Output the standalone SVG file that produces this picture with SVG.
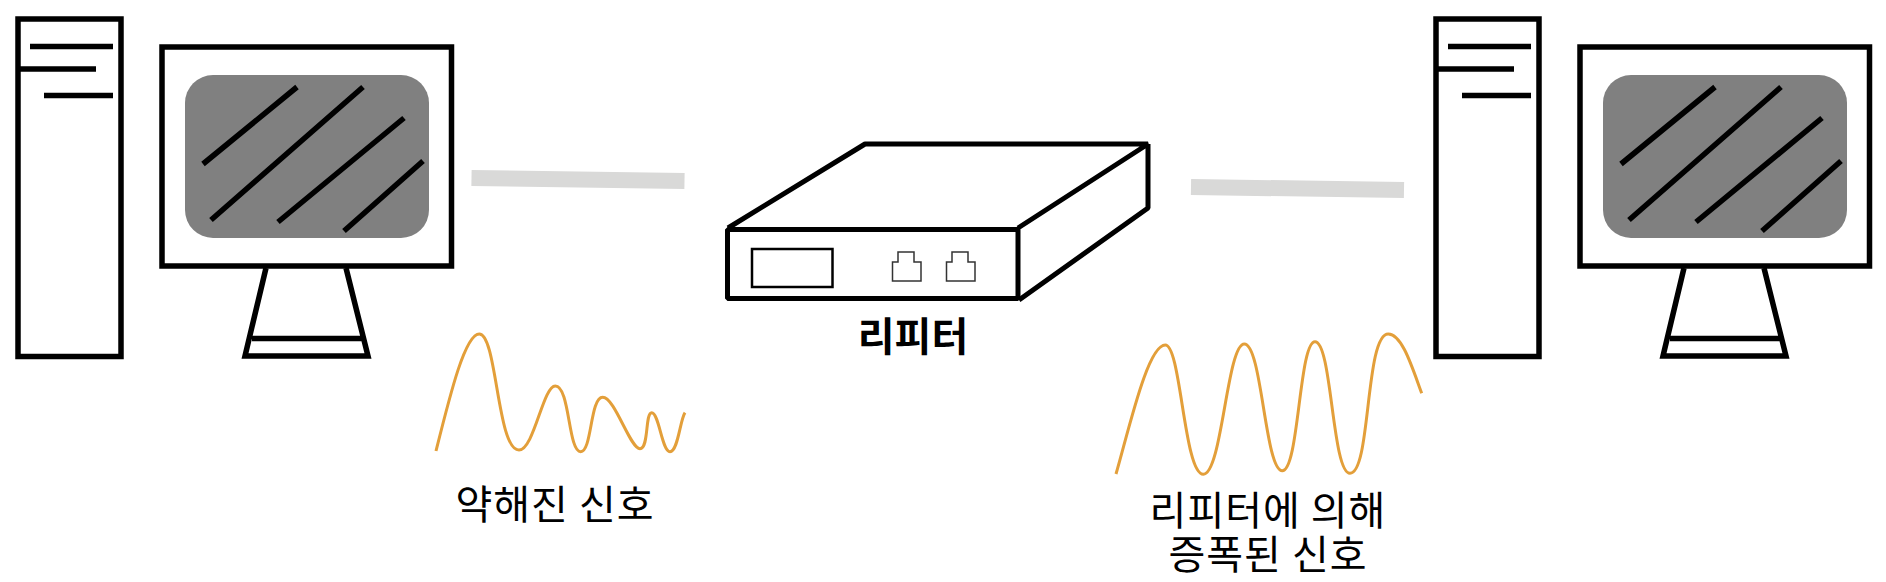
<svg xmlns="http://www.w3.org/2000/svg" width="1886" height="582" viewBox="0 0 1886 582">
<style>
.k{fill:none;stroke:#000;stroke-width:5.5}
.r{fill:none;stroke:#000;stroke-width:5;stroke-linejoin:bevel}
.p{fill:#fff;stroke:#333;stroke-width:1.5}
.wave{fill:none;stroke:#e39f3a;stroke-width:3}
.g{fill:none;stroke:#d9d9d8;stroke-width:16}
text{font-family:"Noto Sans CJK KR","Noto Sans",sans-serif;font-size:40px;letter-spacing:1px;fill:#000;text-anchor:middle}
</style>
<defs>
<g id="pc">
<rect class="k" x="18" y="19" width="103" height="337.500"/>
<path class="k" d="M30 46.500H113M18 69H96M44 95.500H113"/>
<rect class="k" x="162" y="47" width="289.500" height="219"/>
<rect x="185" y="75" width="244" height="163" rx="28" fill="#808080"/>
<path class="k" d="M203 164L297 87M211 220L363 87M278 222L404 118M344 231L423 161"/>
<path class="k" d="M266 268L245 356H368L346 268M252 338.500H362"/>
</g>
</defs>
<g id="pc-left"><use href="#pc"/></g>
<g id="pc-right"><use href="#pc" x="1418"/></g>
<g id="repeater">
<rect class="r" x="727.500" y="229.500" width="290.500" height="69"/>
<path class="r" d="M728 228L865 144H1148L1018 228M1148 144V208L1019 300"/>
<rect x="752" y="249" width="80.500" height="38" fill="#fff" stroke="#000" stroke-width="2.500"/>
<path class="p" d="M892.500 281V262H898V252H914V262H921V281Z"/>
<path class="p" d="M946.500 281V262H952V252H968V262H975V281Z"/>
<text x="913" y="351" font-weight="700" style="letter-spacing:0">리피터</text>
</g>
<g id="connectors">
<path class="g" d="M471.500 178L684.500 181"/>
<path class="g" d="M1191 187L1404 190"/>
</g>
<g id="weak-signal">
<path class="wave" d="M436 451C450 395 465 334 479.300 334C497 334 497 450 519 450C534 450 543 386 555.300 386C570 386 568 451.700 580.700 451.700C592 451.700 590 397.300 602.700 397.300C615 397.300 630 448.700 640 448.700C649 448.700 645 412.700 651.700 412.700C659 412.700 662 451.700 670 451.700C678 451.700 680 420 685 412.700"/>
<text x="555" y="519">약해진 신호</text>
</g>
<g id="strong-signal">
<path class="wave" d="M1116 474C1130 425 1148 345 1165.300 345C1181 345 1184 474.300 1203.300 474.300C1222 474.300 1227 344 1244.300 344C1262 344 1265 470.700 1282.300 470.700C1299 470.700 1299 341.700 1315 341.700C1332 341.700 1332 473.300 1350 473.300C1371 473.300 1365 334 1388.300 334C1402 334 1412 367 1421.700 393.300"/>
<text><tspan x="1268" y="525">리피터에 의해</tspan><tspan x="1268" y="569">증폭된 신호</tspan></text>
</g>
</svg>
